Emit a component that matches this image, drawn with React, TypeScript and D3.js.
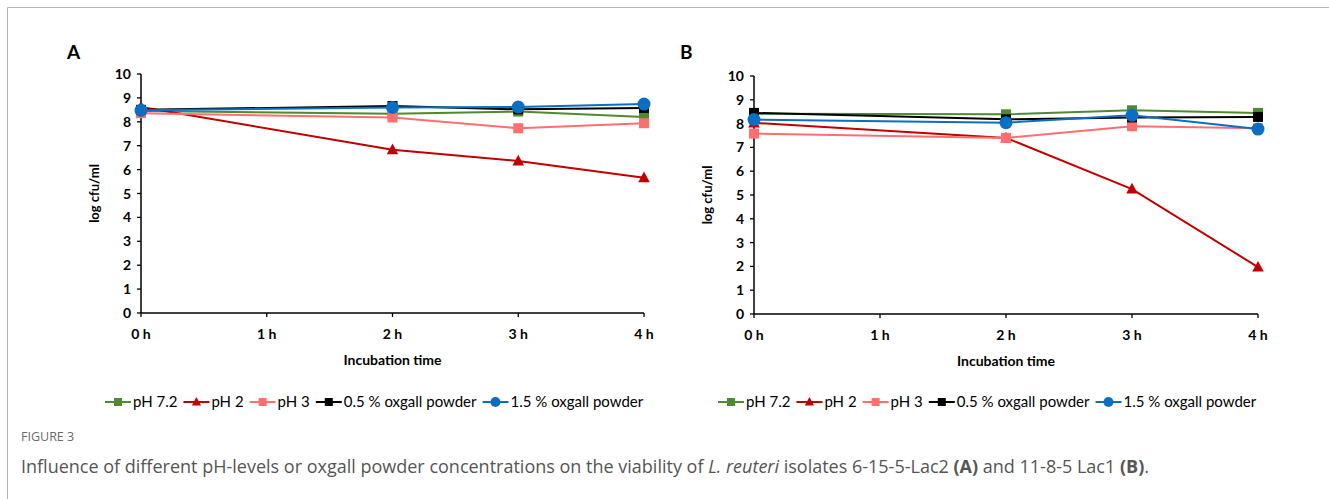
import React from "react";
import * as d3 from "d3";

const times = [0, 2, 3, 4];
const tickHours = [0, 1, 2, 3, 4];
const tickLabels = ["0 h", "1 h", "2 h", "3 h", "4 h"];
const yTicks = [0, 1, 2, 3, 4, 5, 6, 7, 8, 9, 10];

const seriesNames = ["pH 7.2", "pH 2", "pH 3", "0.5 % oxgall powder", "1.5 % oxgall powder"];
const seriesColors = ["#4f8a30", "#c00000", "#ff6f6f", "#000000", "#0a6fc2"];
const seriesMarkers = ["square", "triangle", "square", "square", "circle"];

// Panel A: L. reuteri 6-15-5-Lac2
const aPH72 = [8.45, 8.34, 8.43, 8.2];
const aPH2 = [8.62, 6.83, 6.36, 5.66];
const aPH3 = [8.36, 8.18, 7.73, 7.94];
const aOx05 = [8.5, 8.66, 8.52, 8.58];
const aOx15 = [8.48, 8.6, 8.62, 8.74];

// Panel B: L. reuteri 11-8-5 Lac1
const bPH72 = [8.42, 8.39, 8.56, 8.45];
const bPH2 = [8.03, 7.4, 5.25, 1.97];
const bPH3 = [7.58, 7.4, 7.89, 7.8];
const bOx05 = [8.45, 8.18, 8.26, 8.28];
const bOx15 = [8.17, 8.04, 8.35, 7.77];

const panelA = [aPH72, aPH2, aPH3, aOx05, aOx15];
const panelB = [bPH72, bPH2, bPH3, bOx05, bOx15];

const FONT = "Lato, 'Open Sans', sans-serif";
const LEGEND_SIZE = 15;

function measure(text: string, font: string): number {
  if (typeof document === "undefined") return text.length * 7;
  const c = document.createElement("canvas");
  const ctx = c.getContext("2d");
  if (!ctx) return text.length * 7;
  ctx.font = font;
  return ctx.measureText(text).width;
}

function Marker({ type, x, y, color, size }: { type: string; x: number; y: number; color: string; size: number }) {
  if (type === "square") {
    return <rect x={x - size / 2} y={y - size / 2} width={size} height={size} fill={color} />;
  }
  if (type === "circle") {
    return <circle cx={x} cy={y} r={size / 2 + 1} fill={color} />;
  }
  const h = size * 1.0;
  const w = size * 1.15;
  return (
    <path
      d={`M${x},${y - h * 0.62} L${x + w / 2},${y + h * 0.45} L${x - w / 2},${y + h * 0.45} Z`}
      fill={color}
    />
  );
}

function Panel({
  label,
  data,
  left,
  right,
  top,
  bottom,
  legendX,
}: {
  label: string;
  data: number[][];
  left: number;
  right: number;
  top: number;
  bottom: number;
  legendX: number;
}) {
  const x = d3.scaleLinear().domain([0, 4]).range([left, right]);
  const y = d3.scaleLinear().domain([0, 10]).range([bottom, top]);
  const line = d3
    .line<number>()
    .x((_, i) => x(times[i]))
    .y((d) => y(d));

  const legendFont = `${LEGEND_SIZE}px ${FONT}`;
  let cursor = legendX;
  const legendItems = seriesNames.map((name, i) => {
    const lx = cursor;
    const w = measure(name, legendFont);
    cursor += 26 + 2 + w + 6;
    return { name, i, lx };
  });
  const legendY = 402;

  return (
    <g>
      <text x={left - 74} y={59} fontFamily={FONT} fontWeight={700} fontSize={19} fill="#000">
        {label}
      </text>
      {/* axes */}
      <line x1={left} x2={left} y1={top} y2={bottom} stroke="#000" strokeWidth={1.5} />
      <line x1={left} x2={right} y1={bottom} y2={bottom} stroke="#000" strokeWidth={1.5} />
      {yTicks.map((t) => (
        <g key={"y" + t}>
          <line x1={left - 4} x2={left} y1={y(t)} y2={y(t)} stroke="#000" strokeWidth={1.3} />
          <text
            x={left - 10}
            y={y(t)}
            dy="0.36em"
            textAnchor="end"
            fontFamily={FONT}
            fontWeight={700}
            fontSize={14}
            fill="#000"
          >
            {t}
          </text>
        </g>
      ))}
      {tickHours.map((t, i) => (
        <g key={"x" + t}>
          <line x1={x(t)} x2={x(t)} y1={bottom} y2={bottom + 4} stroke="#000" strokeWidth={1.3} />
          <text
            x={x(t)}
            y={bottom + 26}
            textAnchor="middle"
            fontFamily={FONT}
            fontWeight={700}
            fontSize={14}
            fill="#000"
          >
            {tickLabels[i]}
          </text>
        </g>
      ))}
      <text
        x={(left + right) / 2}
        y={bottom + 52}
        textAnchor="middle"
        fontFamily={FONT}
        fontWeight={700}
        fontSize={14}
        fill="#000"
      >
        Incubation time
      </text>
      <text
        transform={`translate(${left - 42},${(top + bottom) / 2}) rotate(-90)`}
        textAnchor="middle"
        fontFamily={FONT}
        fontWeight={700}
        fontSize={13}
        fill="#000"
      >
        log cfu/ml
      </text>
      {/* series */}
      {data.map((vals, si) => (
        <g key={"s" + si}>
          <path d={line(vals) || ""} fill="none" stroke={seriesColors[si]} strokeWidth={2} />
          {vals.map((v, i) => (
            <Marker
              key={i}
              type={seriesMarkers[si]}
              x={x(times[i])}
              y={y(v)}
              color={seriesColors[si]}
              size={seriesMarkers[si] === "circle" ? 11 : 10}
            />
          ))}
        </g>
      ))}
      {/* legend */}
      {legendItems.map(({ name, i, lx }) => (
        <g key={"l" + i}>
          <line x1={lx} x2={lx + 26} y1={legendY} y2={legendY} stroke={seriesColors[i]} strokeWidth={2} />
          <Marker type={seriesMarkers[i]} x={lx + 13} y={legendY} color={seriesColors[i]} size={8} />
          <text x={lx + 28} y={legendY} dy="0.35em" fontFamily={FONT} fontSize={LEGEND_SIZE} fill="#000">
            {name}
          </text>
        </g>
      ))}
    </g>
  );
}

export default function App() {
  return (
    <svg
      width={1329}
      height={499}
      style={{ position: "absolute", left: 0, top: 0, background: "#fff" }}
    >
      <rect x={0} y={0} width={1329} height={499} fill="#fff" />
      <line x1={7.5} x2={1329} y1={7.5} y2={7.5} stroke="#b5b5b5" strokeWidth={1} />
      <line x1={7.5} x2={7.5} y1={7.5} y2={499} stroke="#b5b5b5" strokeWidth={1} />
      <Panel label="A" data={panelA} left={141} right={644} top={74} bottom={313} legendX={105} />
      <Panel label="B" data={panelB} left={754} right={1258} top={76} bottom={314} legendX={718} />
      <text x={21} y={441} fontFamily="'Open Sans', sans-serif" fontSize={12.5} fill="#6a6a6a">
        FIGURE 3
      </text>
      <text x={21} y={473} fontFamily="'Open Sans', sans-serif" fontSize={18} fill="#555">
        Influence of different pH-levels or oxgall powder concentrations on the viability of{" "}
        <tspan fontStyle="italic">L. reuteri</tspan> isolates 6-15-5-Lac2{" "}
        <tspan fontWeight={700}>(A)</tspan> and 11-8-5 Lac1 <tspan fontWeight={700}>(B)</tspan>.
      </text>
    </svg>
  );
}
